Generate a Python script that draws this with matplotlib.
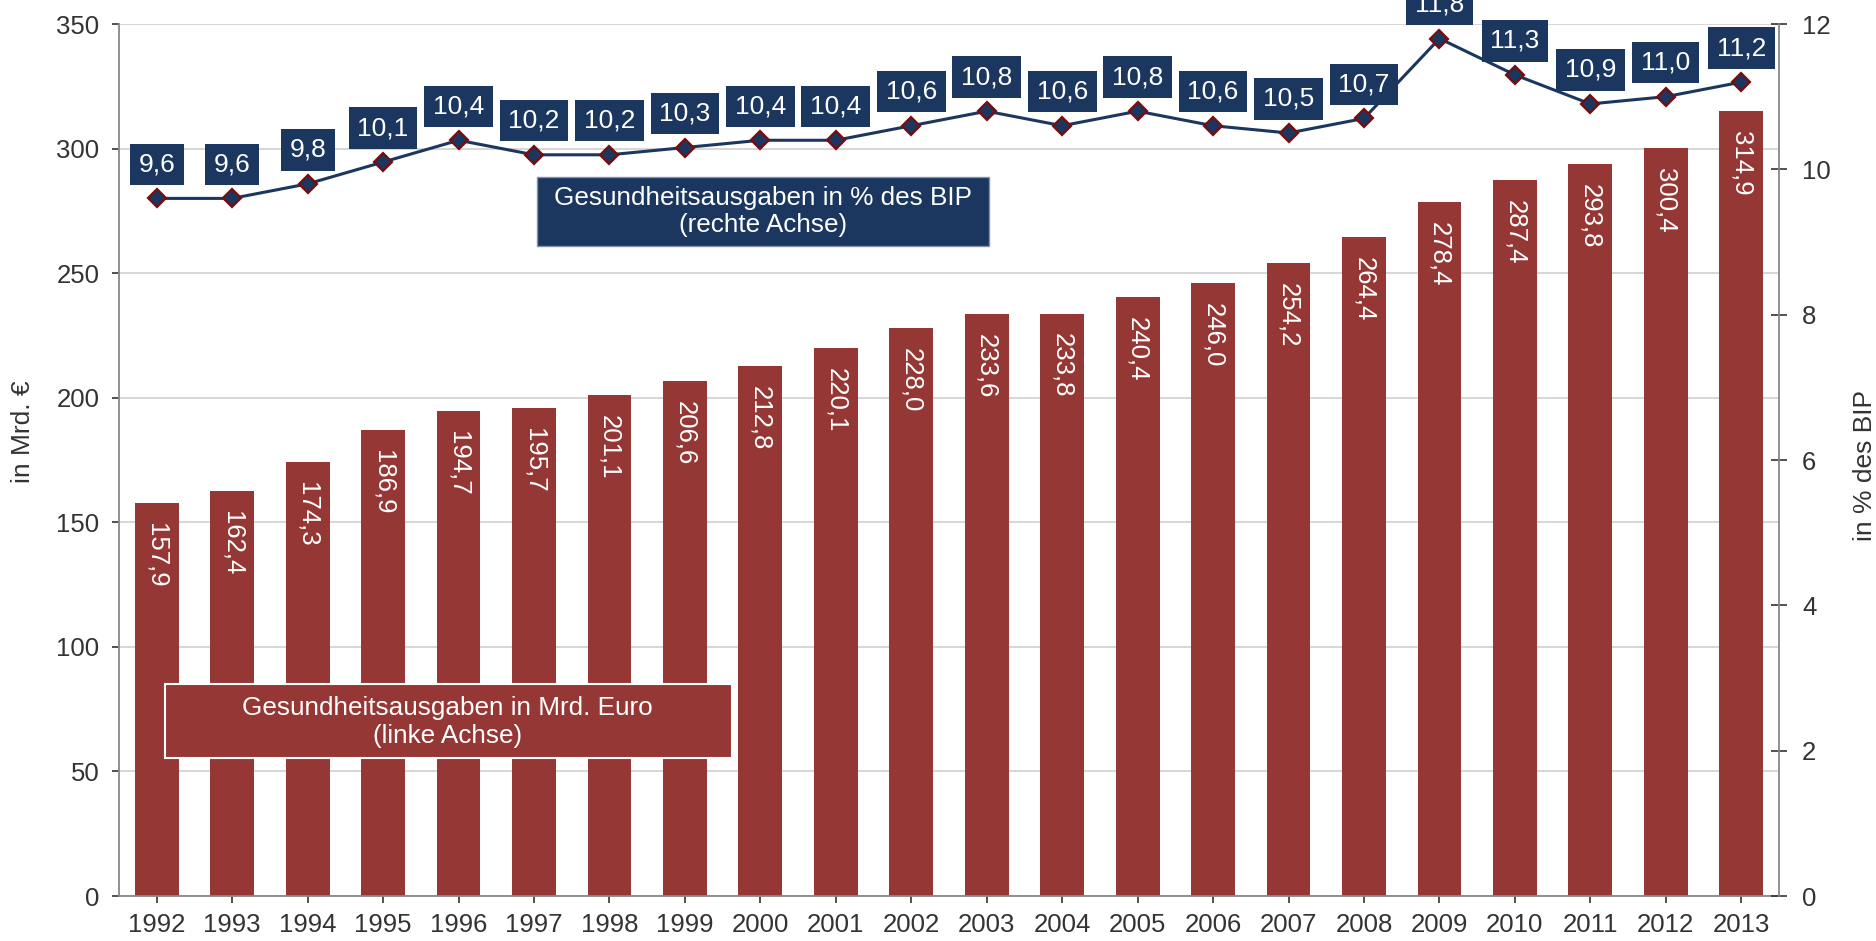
import matplotlib as mpl
mpl.use('Agg')
import matplotlib.pyplot as plt
from matplotlib.patches import Rectangle
import numpy as np

years = ['1992', '1993', '1994', '1995', '1996', '1997', '1998', '1999', '2000', '2001', '2002',
         '2003', '2004', '2005', '2006', '2007', '2008', '2009', '2010', '2011', '2012', '2013']
ausgaben = [157.9, 162.4, 174.3, 186.9, 194.7, 195.7, 201.1, 206.6, 212.8, 220.1, 228.0,
            233.6, 233.8, 240.4, 246.0, 254.2, 264.4, 278.4, 287.4, 293.8, 300.4, 314.9]
anteil_bip = [9.6, 9.6, 9.8, 10.1, 10.4, 10.2, 10.2, 10.3, 10.4, 10.4, 10.6,
              10.8, 10.6, 10.8, 10.6, 10.5, 10.7, 11.8, 11.3, 10.9, 11.0, 11.2]

red = '#953735'
blue = '#1b375f'
txt = '#333333'

plt.rcParams['font.family'] = ['Liberation Sans', 'DejaVu Sans']

def fmt(v):
    return ('%.1f' % v).replace('.', ',')

fig = plt.figure(figsize=(18.76, 9.41), dpi=100)
ax = fig.add_axes([119 / 1876, 1 - 896 / 941, 1660 / 1876, 872 / 941])
x = np.arange(len(years))

ax.bar(x, ausgaben, width=0.58, color=red, zorder=2)
ax.set_xlim(-0.5, len(years) - 0.5)
ax.set_ylim(0, 350)
ax.set_yticks(range(0, 351, 50))
ax.yaxis.grid(True, color='#d0d0d0', linewidth=1.2, zorder=0)
ax.set_axisbelow(True)
ax.set_xticks(x)
ax.set_xticklabels(years)
ax.tick_params(axis='both', labelsize=18.5, colors=txt, length=5, width=1.2)
ax.tick_params(axis='y', pad=9)
ax.tick_params(axis='x', pad=7)
for s in ['left', 'bottom']:
    ax.spines[s].set_color('#888888')
    ax.spines[s].set_linewidth(1.3)
for s in ['top', 'right']:
    ax.spines[s].set_visible(False)
ax.set_ylabel('in Mrd. €', fontsize=19, color=txt)
ax.yaxis.label.set_va('center')
ax.yaxis.set_label_coords(-0.0578, 0.533)

for i, v in enumerate(ausgaben):
    ax.text(i, v - 8, fmt(v), rotation=-90, ha='center', va='top',
            color='white', fontsize=18.5, zorder=3)

ax2 = ax.twinx()
ax2.set_ylim(0, 12)
ax2.set_yticks(range(0, 13, 2))
ax2.tick_params(axis='y', labelsize=18.5, colors=txt, length=11, width=1.2, direction='inout', pad=11)
ax2.spines['right'].set_color('#888888')
ax2.spines['right'].set_linewidth(1.3)
for s in ['top', 'left', 'bottom']:
    ax2.spines[s].set_visible(False)
ax2.set_ylabel('in % des BIP', fontsize=19, color=txt, rotation=90)
ax2.yaxis.label.set_va('center')
ax2.yaxis.set_label_coords(1.052, 0.494)

ax2.plot(x, anteil_bip, color=blue, linewidth=2.2, marker='D', markersize=9,
         markerfacecolor=blue, markeredgecolor='#7a0c0c', markeredgewidth=1.6, zorder=4)
for i, v in enumerate(anteil_bip):
    ax2.annotate(fmt(v), (i, v), xytext=(0, 24.5), textcoords='offset points',
                 ha='center', va='center', color='white', fontsize=19,
                 bbox=dict(boxstyle='square,pad=0.33', facecolor=blue, edgecolor='none'),
                 annotation_clip=False, zorder=5)

# Legendenkaesten
ax2.add_patch(Rectangle((0.0277, 0.158), 0.3416, 0.0849, transform=ax2.transAxes,
                        facecolor=red, edgecolor='white', linewidth=1.5, zorder=6))
ax2.text(0.198, 0.2, 'Gesundheitsausgaben in Mrd. Euro\n(linke Achse)', transform=ax2.transAxes,
         ha='center', va='center', color='white', fontsize=18.8, multialignment='center',
         linespacing=1.2, zorder=7)
ax2.add_patch(Rectangle((0.2518, 0.7454), 0.2723, 0.0791, transform=ax2.transAxes,
                        facecolor=blue, edgecolor='#8090a8', linewidth=1, zorder=6))
ax2.text(0.388, 0.785, 'Gesundheitsausgaben in % des BIP\n(rechte Achse)', transform=ax2.transAxes,
         ha='center', va='center', color='white', fontsize=18.8, multialignment='center',
         linespacing=1.2, zorder=7)

plt.savefig('out.png', dpi=100)
